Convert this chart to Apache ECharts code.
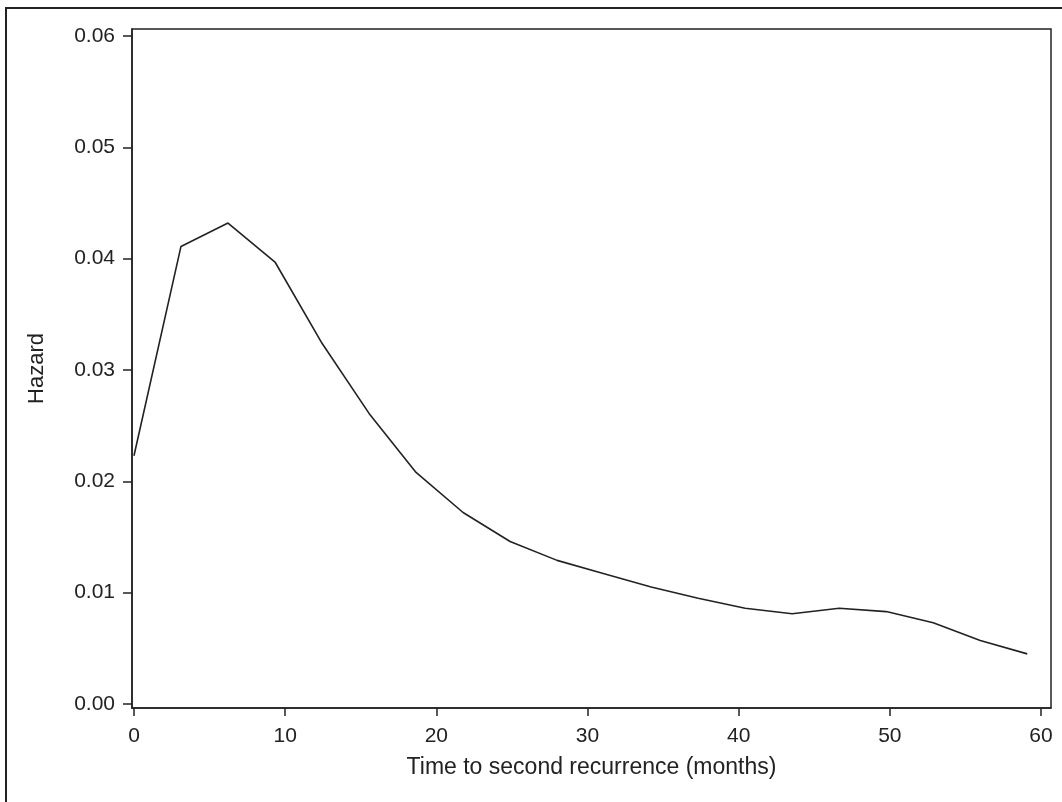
<!DOCTYPE html>
<html>
<head>
<meta charset="utf-8">
<script src="https://cdn.jsdelivr.net/npm/echarts@6/dist/echarts.min.js"></script>
<style>
  html, body { margin: 0; padding: 0; background: #fff; }
  #chart { width: 1062px; height: 802px; }
</style>
</head>
<body>
<div id="chart"></div>
<script>
// Smoothed hazard estimate for time to second recurrence
const timeMonths = [0, 3.11, 6.22, 9.33, 12.44, 15.55, 18.66, 21.77, 24.88, 27.99,
                    31.1, 34.21, 37.32, 40.43, 43.54, 46.65, 49.76, 52.87, 55.98, 59.09];
const hazard = [0.0223, 0.0411, 0.0432, 0.0397, 0.0324, 0.0261, 0.0208, 0.0172, 0.0146, 0.0129,
                0.0117, 0.0105, 0.0095, 0.0086, 0.0081, 0.0086, 0.0083, 0.0073, 0.0057, 0.0045];
const xTicks = [0, 10, 20, 30, 40, 50, 60];
const yTicks = [0, 0.01, 0.02, 0.03, 0.04, 0.05, 0.06];

const ink = '#222';
const font = '"Liberation Sans", Arial, sans-serif';

const chart = echarts.init(document.getElementById('chart'), null, { renderer: 'canvas' });
chart.setOption({
  animation: false,
  backgroundColor: '#fff',
  graphic: [{
    type: 'rect',
    shape: { x: 6, y: 8, width: 1200, height: 900 },
    style: { fill: 'none', stroke: ink, lineWidth: 2 },
    silent: true
  }],
  grid: {
    left: 132, top: 29, right: 11, bottom: 94,
    show: true, borderColor: ink, borderWidth: 1.5, backgroundColor: 'transparent'
  },
  xAxis: {
    type: 'value',
    min: -0.13, max: 60.66,
    name: 'Time to second recurrence (months)',
    nameLocation: 'middle',
    nameGap: 48,
    nameTextStyle: { color: ink, fontSize: 23, fontFamily: font },
    axisLine: { show: true, onZero: false, lineStyle: { color: ink, width: 1.5 } },
    axisTick: { show: true, length: 8, customValues: xTicks, lineStyle: { color: ink, width: 1.5 } },
    axisLabel: { customValues: xTicks, color: ink, fontSize: 21, fontFamily: font, margin: 18 },
    splitLine: { show: false }
  },
  yAxis: {
    type: 'value',
    min: -0.00036, max: 0.06063,
    name: 'Hazard',
    nameLocation: 'middle',
    nameGap: 84,
    nameRotate: 90,
    nameTextStyle: { color: ink, fontSize: 22, fontFamily: font },
    axisLine: { show: true, onZero: false, lineStyle: { color: ink, width: 1.5 } },
    axisTick: { show: true, length: 9, customValues: yTicks, lineStyle: { color: ink, width: 1.5 } },
    axisLabel: {
      customValues: yTicks, color: ink, fontSize: 21, fontFamily: font, margin: 17,
      formatter: v => v.toFixed(2)
    },
    splitLine: { show: false }
  },
  series: [{
    type: 'line',
    data: timeMonths.map((t, i) => [t, hazard[i]]),
    showSymbol: false,
    lineStyle: { color: ink, width: 1.6 },
    clip: true
  }]
});
</script>
</body>
</html>
